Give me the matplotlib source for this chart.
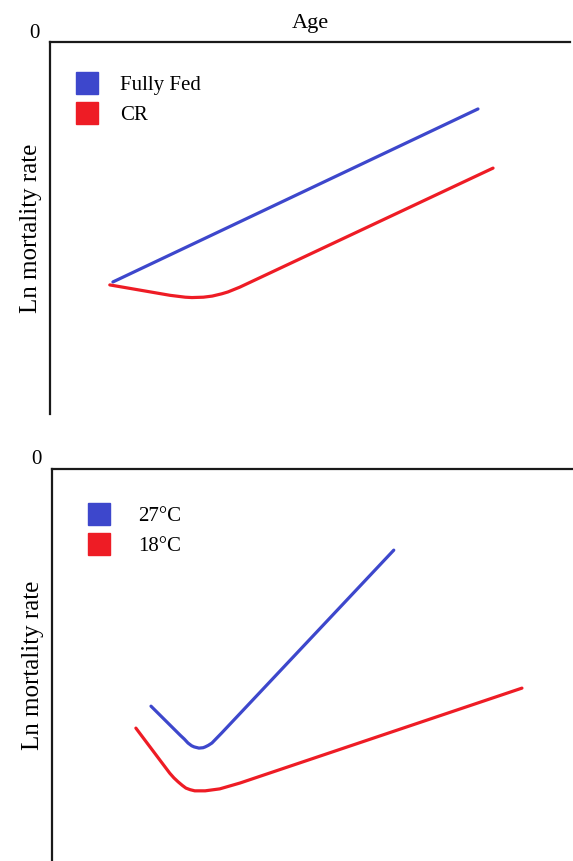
import matplotlib.pyplot as plt
from matplotlib.lines import Line2D

# values (age and ln mortality in arbitrary units, 0 at top)
fed_age = [12.1, 82.3]
fed_ln = [-6.45, -1.80]
cr_age = [11.5, 17.3, 23.1, 26.0, 27.3, 29.5, 31.2, 33.0, 34.2, 36.5, 85.2]
cr_ln = [-6.53, -6.67, -6.81, -6.86, -6.87, -6.86, -6.83, -6.77, -6.72, -6.59, -3.39]

hot_age = [19.0, 24.6, 25.4, 26.1, 26.8, 27.3, 28.2, 29.0, 29.4, 30.0, 30.7, 32.6, 65.6]
hot_ln = [-6.05, -6.79, -6.89, -6.99, -7.06, -7.09, -7.12, -7.11, -7.09, -7.05, -6.99, -6.73, -2.07]
cold_age = [16.1, 22.6, 23.4, 24.2, 25.0, 25.7, 26.5, 27.4, 29.4, 32.2, 36.1, 90.2]
cold_ln = [-6.61, -7.76, -7.88, -7.98, -8.07, -8.14, -8.18, -8.21, -8.21, -8.16, -8.01, -5.59]

top_labels = ['Fully Fed', 'CR']
bottom_labels = ['27°C', '18°C']

blue = '#3d47cc'
red = '#ee1c25'
plt.rcParams['font.family'] = ['Liberation Serif', 'DejaVu Serif']

fig = plt.figure(figsize=(5.73, 8.61), dpi=100)
ax1 = fig.add_axes([50/573, 1-414/861, 520/573, 372/861])
ax2 = fig.add_axes([52/573, 0, 521/573, 392/861])


def style(ax, zero_y):
    ax.set_xlim(0, 100)
    ax.set_ylim(-10, 0)
    ax.spines['right'].set_visible(False)
    ax.spines['bottom'].set_visible(False)
    for s in ['top', 'left']:
        ax.spines[s].set_linewidth(1.6)
        ax.spines[s].set_color('#1a1a1a')
    ax.set_xticks([])
    ax.set_yticks([])
    ax.set_ylabel('Ln mortality rate', fontsize=18, labelpad=6)
    ax.text(-0.03, zero_y, '0', transform=ax.transAxes, fontsize=15,
            ha='center', va='center')


style(ax1, 1.022)
style(ax2, 1.025)

ax1.plot(fed_age, fed_ln, color=blue, lw=2.3, solid_capstyle='round')
ax1.plot(cr_age, cr_ln, color=red, lw=2.3, solid_capstyle='round', solid_joinstyle='round')
ax1.set_title('Age', fontsize=16, pad=10)

ax2.plot(hot_age, hot_ln, color=blue, lw=2.3, solid_capstyle='round', solid_joinstyle='round')
ax2.plot(cold_age, cold_ln, color=red, lw=2.3, solid_capstyle='round', solid_joinstyle='round')


def legend(ax, labels, x, y, pad):
    handles = [Line2D([], [], ls='none', marker='s', markersize=16,
                      markerfacecolor=c, markeredgecolor=c) for c in [blue, red]]
    ax.legend(handles, labels, loc='upper left', bbox_to_anchor=(x, y),
              frameon=False, fontsize=15, handlelength=1.1, handletextpad=pad,
              labelspacing=0.5, borderpad=0, borderaxespad=0)


legend(ax1, top_labels, 0.05, 0.909, 1.0)
legend(ax2, bottom_labels, 0.068, 0.905, 1.35)

fig.savefig('out.png', dpi=100)
